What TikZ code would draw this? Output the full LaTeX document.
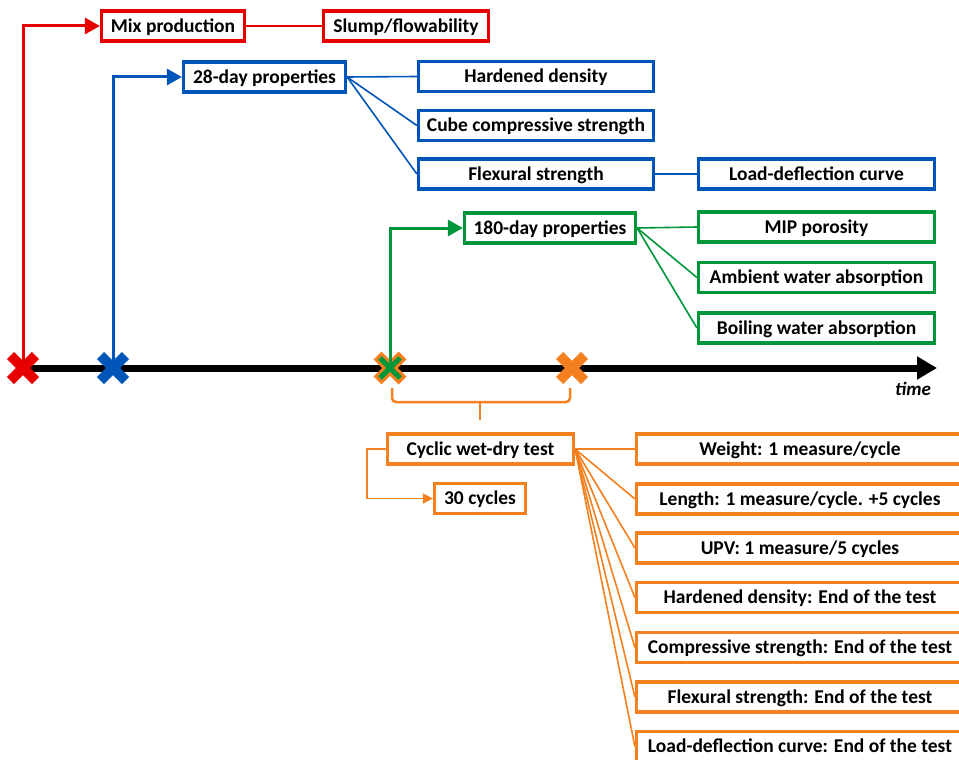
\documentclass[tikz,border=0pt]{standalone}
\usepackage{fontspec}
\setmainfont{Carlito}
\usetikzlibrary{arrows.meta}
\definecolor{cred}{RGB}{232,0,0}
\definecolor{cblue}{RGB}{0,86,184}
\definecolor{cgreen}{RGB}{0,150,57}
\definecolor{corange}{RGB}{245,128,32}
\tikzset{
  box/.style={draw, line width=3.2pt, fill=white, inner sep=0pt, minimum height=30pt,
    text height=12.5pt, text depth=0pt,
    font=\bfseries\fontsize{19.5}{22}\selectfont, align=center},
  conn/.style={line width=1.6pt},
  feed/.style={line width=3pt, -{Triangle[length=15pt,width=16pt]}},
  xmark/.style={line width=10pt},
}
\begin{document}
\begin{tikzpicture}[x=1pt,y=-1pt]
\clip (0,0) rectangle (959,760);
\fill[white] (0,0) rectangle (959,760);
% timeline
\coordinate (xr) at (23,368);
\coordinate (xb) at (113,368);
\coordinate (xg) at (390,368);
\coordinate (xo) at (572,368);
\coordinate (tend) at (937,368);
\draw[line width=7pt, -{Triangle[length=20pt,width=22pt]}] (xr) -- (tend);
\node[font=\bfseries\itshape\fontsize{19}{22}\selectfont] (time) at (913,389) {time};
% boxes
\node[box, draw=cred, minimum width=143pt] (mix) at (173,26) {Mix production};
\node[box, draw=cred, minimum width=165pt] (slump) at (406,26) {Slump/flowability};
\node[box, draw=cblue, minimum width=162pt] (p28) at (264.5,77) {28-day properties};
\node[box, draw=cblue, minimum width=235pt] (hd) at (536,76.5) {Hardened density};
\node[box, draw=cblue, minimum width=235pt] (cube) at (536,125.5) {Cube compressive strength};
\node[box, draw=cblue, minimum width=235pt] (flex) at (536,174) {Flexural strength};
\node[box, draw=cblue, minimum width=236pt] (ldc) at (816.5,174) {Load-deflection curve};
\node[box, draw=cgreen, minimum width=171pt] (p180) at (550,228) {180-day properties};
\node[box, draw=cgreen, minimum width=236pt] (mip) at (816.5,227) {MIP porosity};
\node[box, draw=cgreen, minimum width=236pt] (amb) at (816.5,277.5) {Ambient water absorption};
\node[box, draw=cgreen, minimum width=236pt] (boil) at (816.5,328) {Boiling water absorption};
\node[box, draw=corange, minimum width=186pt] (cyc) at (480.5,449) {Cyclic wet-dry test};
\node[box, draw=corange, minimum width=91pt] (c30) at (480,498.5) {30 cycles};
\node[box, draw=corange, minimum width=327pt] (o1) at (800,449) {Weight: 1 measure/cycle};
\node[box, draw=corange, minimum width=327pt] (o2) at (800,499) {Length: 1 measure/cycle. +5 cycles};
\node[box, draw=corange, minimum width=327pt] (o3) at (800,548) {UPV: 1 measure/5 cycles};
\node[box, draw=corange, minimum width=327pt] (o4) at (800,597.5) {Hardened density: End of the test};
\node[box, draw=corange, minimum width=327pt] (o5) at (800,647.5) {Compressive strength: End of the test};
\node[box, draw=corange, minimum width=327pt] (o6) at (800,697) {Flexural strength: End of the test};
\node[box, draw=corange, minimum width=327pt] (o7) at (800,746.5) {Load-deflection curve: End of the test};
% feeds from timeline
\draw[feed, cred] (xr) |- (mix.west);
\draw[feed, cblue] (xb) |- (p28.west);
\draw[feed, cgreen] (xg) |- (p180.west);
% connectors
\draw[conn, cred] (mix.east) -- (slump.west);
\foreach \t in {hd,cube,flex} \draw[conn, cblue] (p28.east) -- (\t.west);
\draw[conn, cblue] (flex.east) -- (ldc.west);
\foreach \t in {mip,amb,boil} \draw[conn, cgreen] (p180.east) -- (\t.west);
\foreach \t in {o1,o2,o3,o4,o5,o6,o7} \draw[conn, corange] (cyc.east) -- (\t.west);
\draw[conn, corange, -{Triangle[length=10pt,width=10pt]}] (cyc.west) -- ++(-19,0) |- (c30.west);
% brace
\draw[corange, line width=2.5pt, rounded corners=4pt] (392,388) -- (392,402) -- (570,402) -- (570,388);
\draw[corange, line width=2.5pt] (480,401) -- (480,420);
% crosses
\draw[xmark, cred, shift={(xr)}] (-12.5,-12.5) -- (12.5,12.5) (-12.5,12.5) -- (12.5,-12.5);
\draw[xmark, cblue, shift={(xb)}] (-12.5,-12.5) -- (12.5,12.5) (-12.5,12.5) -- (12.5,-12.5);
\draw[xmark, corange, shift={(xo)}] (-12.5,-12.5) -- (12.5,12.5) (-12.5,12.5) -- (12.5,-12.5);
\draw[line width=11pt, corange, shift={(xg)}] (-12.5,-12.5) -- (12.5,12.5) (-12.5,12.5) -- (12.5,-12.5);
\draw[line width=5pt, cgreen, shift={(xg)}] (-10,-10) -- (10,10) (-10,10) -- (10,-10);
\draw[line width=3pt, cgreen] (xg) -- ++(0,-10);
\end{tikzpicture}
\end{document}
